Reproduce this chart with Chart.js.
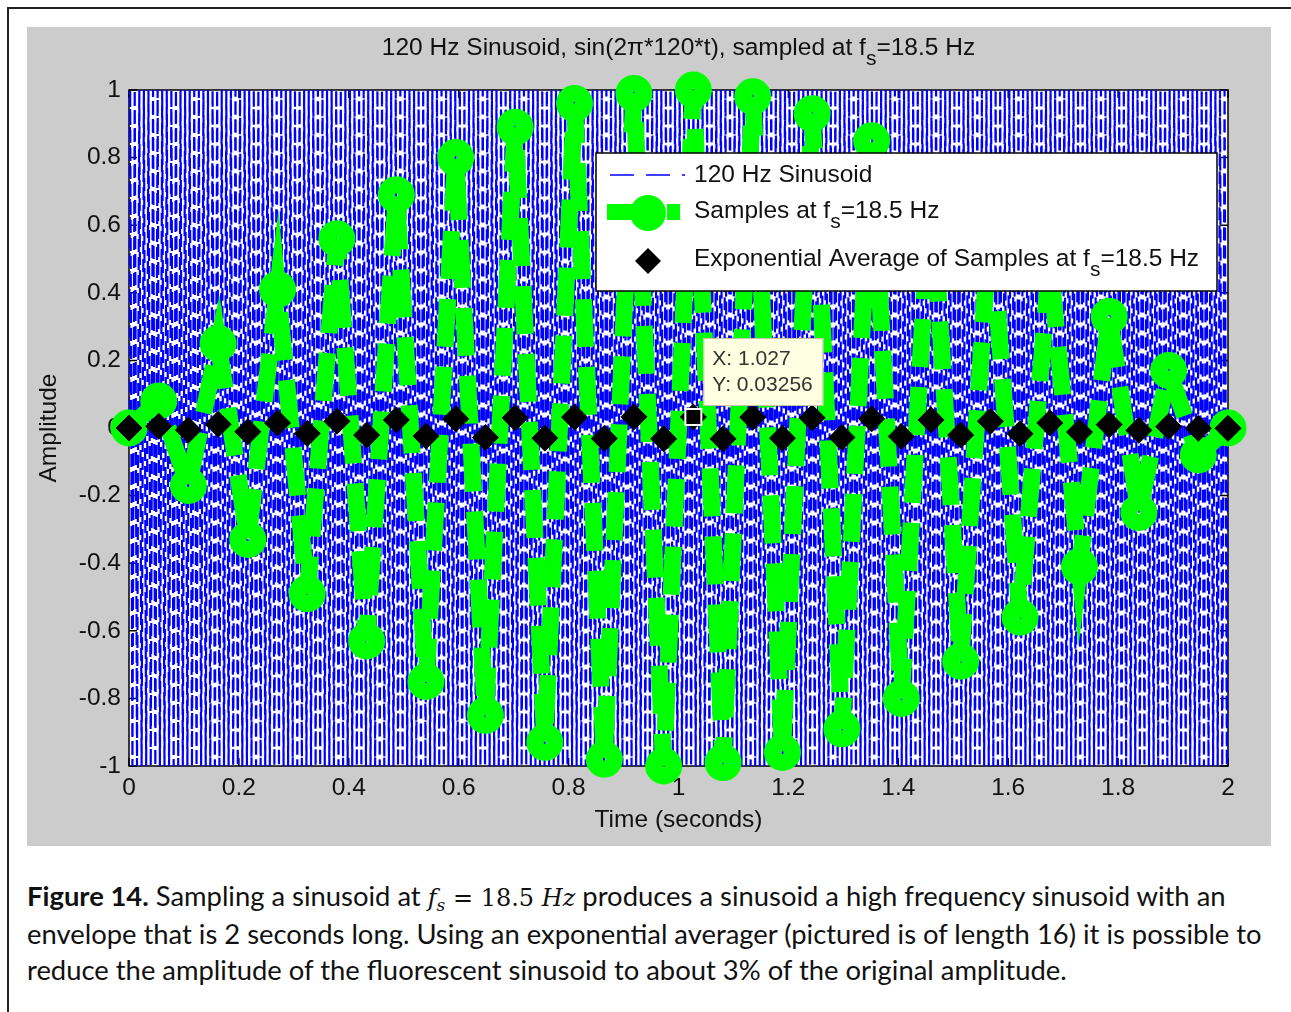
<!DOCTYPE html>
<html>
<head>
<meta charset="utf-8">
<script src="https://cdn.jsdelivr.net/npm/chart.js@4.4.1/dist/chart.umd.min.js"></script>
<style>
  html, body { margin: 0; padding: 0; background: #fff; }
  body { width: 1291px; height: 1012px; position: relative; overflow: hidden; }
  .frame { position: absolute; left: 7px; top: 7px; width: 1300px; height: 1020px;
           border-left: 2px solid #222; border-top: 2px solid #222; }
  .figure { position: absolute; left: 27px; top: 27px; width: 1244px; height: 819px; background: #cccccc; }
  .caption { position: absolute; left: 27px; top: 878px; font-family: Lato, sans-serif; font-size: 27.4px;
             line-height: 36px; color: #111; white-space: nowrap; }
  .caption .m { font-family: "DejaVu Serif", "Liberation Serif", serif; font-size: 24px; }
  .caption sub { font-size: 17px; vertical-align: -5px; line-height: 0; }
</style>
</head>
<body>
<div class="frame"></div>
<div class="figure"><canvas id="chart" width="1244" height="819"></canvas></div>
<div class="caption">
<b>Figure 14.</b> Sampling a sinusoid at <span class="m"><i>f<sub>s</sub></i> = 18.5 <i>Hz</i></span> produces a sinusoid a high frequency sinusoid with an<br>
envelope that is 2 seconds long. Using an exponential averager (pictured is of length 16) it is possible to<br>
reduce the amplitude of the fluorescent sinusoid to about 3% of the original amplitude.
</div>
<script>
// ---- data ----
// 120 Hz trace: one cycle = crest, trough; 240 cycles span the 2 s window
const sineFreq = 120;
const sineCycle = [1, -1];
const sineCycles = 240;

// samples taken at fs = 18.5 Hz (seconds)
const sampleTimes = [
  0, 0.0541, 0.1081, 0.1622, 0.2162, 0.2703, 0.3243, 0.3784, 0.4324, 0.4865,
  0.5405, 0.5946, 0.6486, 0.7027, 0.7568, 0.8108, 0.8649, 0.9189, 0.9730, 1.0270,
  1.0811, 1.1351, 1.1892, 1.2432, 1.2973, 1.3514, 1.4054, 1.4595, 1.5135, 1.5676,
  1.6216, 1.6757, 1.7297, 1.7838, 1.8378, 1.8919, 1.9459, 2.0000
];
const sampleValues = [
  0, 0.08, -0.17, 0.25, -0.33, 0.41, -0.49, 0.56, -0.63, 0.69,
  -0.75, 0.80, -0.85, 0.89, -0.93, 0.96, -0.98, 0.99, -1.00, 1.00,
  -0.99, 0.98, -0.96, 0.93, -0.89, 0.85, -0.80, 0.75, -0.69, 0.63,
  -0.56, 0.49, -0.41, 0.33, -0.25, 0.17, -0.08, 0
];
const averageValues = [
  0, 0.005, -0.006, 0.011, -0.011, 0.015, -0.016, 0.020, -0.021, 0.024,
  -0.024, 0.027, -0.028, 0.030, -0.030, 0.032, -0.031, 0.033, -0.032, 0.03256,
  -0.032, 0.032, -0.030, 0.030, -0.028, 0.027, -0.025, 0.024, -0.021, 0.020,
  -0.017, 0.015, -0.012, 0.010, -0.007, 0.004, -0.001, -0.001
];
const dataTip = { x: 1.027, y: 0.03256 };

const xTicks = [0, 0.2, 0.4, 0.6, 0.8, 1, 1.2, 1.4, 1.6, 1.8, 2];
const yTicks = [-1, -0.8, -0.6, -0.4, -0.2, 0, 0.2, 0.4, 0.6, 0.8, 1];

const FONT = '"Liberation Sans", Arial, sans-serif';
const FS = 24.5;

const sinePoints = [{ x: 0, y: 0 }];
for (let k = 0; k < sineCycles; k++) {
  sineCycle.forEach((v, j) => {
    sinePoints.push({ x: (k + (j + 0.5) / sineCycle.length) / sineFreq, y: v });
  });
}
sinePoints.push({ x: 2, y: 0 });

const samplePoints = sampleTimes.map((t, i) => ({ x: t, y: sampleValues[i] }));
const averagePoints = sampleTimes.map((t, i) => ({ x: t, y: averageValues[i] }));

// text with subscripts: parts = [[text, isSub], ...]
function richText(ctx, parts, x, y, size, align) {
  const big = `${size}px ${FONT}`;
  const small = `${Math.round(size * 0.86)}px ${FONT}`;
  let total = 0;
  parts.forEach(([txt, sub]) => { ctx.font = sub ? small : big; total += ctx.measureText(txt).width; });
  let cx = align === 'center' ? x - total / 2 : x;
  ctx.textAlign = 'left';
  ctx.textBaseline = 'middle';
  parts.forEach(([txt, sub]) => {
    ctx.font = sub ? small : big;
    ctx.fillText(txt, cx, sub ? y + 11 : y);
    cx += ctx.measureText(txt).width;
  });
}

function diamond(ctx, x, y, r) {
  ctx.beginPath();
  ctx.moveTo(x - r, y); ctx.lineTo(x, y - r); ctx.lineTo(x + r, y); ctx.lineTo(x, y + r);
  ctx.closePath();
  ctx.fill();
}

const matlabAxes = {
  id: 'matlabAxes',
  beforeDatasetsDraw(chart) {
    const { ctx, chartArea: a, scales: { x, y } } = chart;
    ctx.save();
    ctx.fillStyle = '#fff';
    ctx.fillRect(a.left, a.top, a.right - a.left, a.bottom - a.top);
    ctx.strokeStyle = '#000';
    ctx.lineWidth = 1.5;
    ctx.strokeRect(a.left, a.top, a.right - a.left, a.bottom - a.top);
    ctx.beginPath();
    xTicks.forEach(t => {
      const px = x.getPixelForValue(t);
      ctx.moveTo(px, a.bottom); ctx.lineTo(px, a.bottom - 8);
      ctx.moveTo(px, a.top); ctx.lineTo(px, a.top + 8);
    });
    yTicks.forEach(t => {
      const py = y.getPixelForValue(t);
      ctx.moveTo(a.left, py); ctx.lineTo(a.left + 8, py);
      ctx.moveTo(a.right, py); ctx.lineTo(a.right - 8, py);
    });
    ctx.stroke();
    ctx.restore();
  },
  afterDatasetsDraw(chart) {
    const { ctx, chartArea: a, scales: { x, y } } = chart;
    ctx.save();

    // legend
    const lx = 569, ly = 126, lw = 621, lh = 138;
    ctx.fillStyle = '#fff';
    ctx.fillRect(lx, ly, lw, lh);
    ctx.strokeStyle = '#000';
    ctx.lineWidth = 1.5;
    ctx.strokeRect(lx, ly, lw, lh);

    ctx.strokeStyle = '#0000ff';
    ctx.lineWidth = 1.5;
    ctx.setLineDash([24, 12]);
    ctx.beginPath(); ctx.moveTo(583, 148); ctx.lineTo(658, 148); ctx.stroke();

    ctx.strokeStyle = '#00ff00';
    ctx.lineWidth = 16;
    ctx.setLineDash([40, 20]);
    ctx.beginPath(); ctx.moveTo(580, 185); ctx.lineTo(653, 185); ctx.stroke();
    ctx.setLineDash([]);
    ctx.fillStyle = '#00ff00';
    ctx.beginPath(); ctx.arc(621, 186, 18, 0, Math.PI * 2); ctx.fill();

    ctx.fillStyle = '#000';
    diamond(ctx, 621, 234, 13);

    ctx.fillStyle = '#111';
    richText(ctx, [['120 Hz Sinusoid']], 667, 148, FS);
    richText(ctx, [['Samples at f'], ['s', true], ['=18.5 Hz']], 667, 184, FS);
    richText(ctx, [['Exponential Average of Samples at f'], ['s', true], ['=18.5 Hz']], 667, 232, FS);

    // data tip
    const px = x.getPixelForValue(dataTip.x), py = y.getPixelForValue(dataTip.y);
    ctx.fillStyle = '#ffffe1';
    ctx.fillRect(px + 10, py - 79, 120, 68);
    ctx.strokeStyle = '#c9c3a3';
    ctx.lineWidth = 1;
    ctx.strokeRect(px + 10.5, py - 78.5, 119, 67);
    ctx.fillStyle = '#333';
    ctx.font = `21px ${FONT}`;
    ctx.textBaseline = 'middle';
    ctx.textAlign = 'left';
    ctx.fillText(`X: ${dataTip.x}`, px + 19, py - 58);
    ctx.fillText(`Y: ${dataTip.y}`, px + 19, py - 32);
    ctx.fillStyle = '#fff';
    ctx.fillRect(px - 9, py - 9, 18, 18);
    ctx.fillStyle = '#000';
    ctx.fillRect(px - 7, py - 7, 14, 14);

    // title
    ctx.fillStyle = '#111';
    richText(ctx, [['120 Hz Sinusoid, sin(2\u03c0*120*t), sampled at f'], ['s', true], ['=18.5 Hz']],
      (a.left + a.right) / 2, 21, FS, 'center');
    ctx.restore();
  }
};

const tickFmt = v => String(+Number(v).toFixed(1));

new Chart(document.getElementById('chart'), {
  type: 'line',
  data: {
    datasets: [
      {
        label: '120 Hz Sinusoid',
        data: sinePoints,
        order: 3,
        borderColor: '#0000ff',
        borderWidth: 2.2,
        borderDash: [13, 5],
        pointRadius: 0,
        tension: 0
      },
      {
        label: 'Samples at fs=18.5 Hz',
        data: samplePoints,
        order: 2,
        borderColor: '#00ff00',
        borderWidth: 17,
        borderDash: [48, 20],
        pointRadius: 10,
        pointBorderWidth: 17,
        pointBorderColor: '#00ff00',
        pointBackgroundColor: 'transparent',
        tension: 0,
        clip: false
      },
      {
        label: 'Exponential Average of Samples at fs=18.5 Hz',
        data: averagePoints,
        order: 1,
        showLine: false,
        pointStyle: 'rectRot',
        pointRadius: 13,
        pointBorderWidth: 1,
        pointBorderColor: '#000',
        pointBackgroundColor: '#000',
        clip: false
      }
    ]
  },
  options: {
    responsive: false,
    animation: false,
    events: [],
    layout: { padding: { top: 63, right: 43, left: 0, bottom: 0 } },
    plugins: { legend: { display: false }, tooltip: { enabled: false } },
    scales: {
      x: {
        type: 'linear',
        min: 0, max: 2,
        afterBuildTicks: s => { s.ticks = xTicks.map(v => ({ value: v })); },
        afterFit: s => { s.height = 80; },
        grid: { display: false, drawTicks: false },
        border: { display: false },
        ticks: { callback: tickFmt, color: '#111', padding: 8, maxRotation: 0, font: { family: FONT, size: FS } },
        title: { display: true, text: 'Time (seconds)', color: '#111', padding: { top: 0, bottom: 11 },
                 font: { family: FONT, size: FS } }
      },
      y: {
        type: 'linear',
        min: -1, max: 1,
        afterBuildTicks: s => { s.ticks = yTicks.map(v => ({ value: v })); },
        afterFit: s => { s.width = 102; },
        grid: { display: false, drawTicks: false },
        border: { display: false },
        ticks: { callback: tickFmt, color: '#111', padding: 8, font: { family: FONT, size: FS } },
        title: { display: true, text: 'Amplitude', color: '#111', padding: { top: 8, bottom: 0 },
                 font: { family: FONT, size: FS } }
      }
    }
  },
  plugins: [matlabAxes]
});
</script>
</body>
</html>
